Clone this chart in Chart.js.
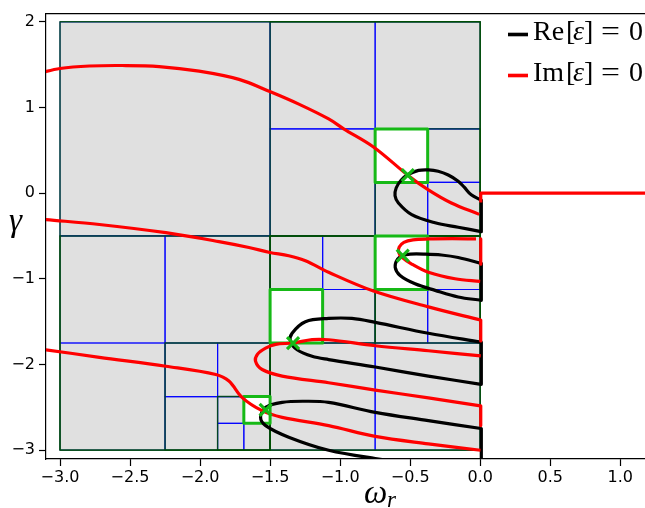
<!DOCTYPE html>
<html lang="en">
<head>
<meta charset="UTF-8">
<title>Root search boxes</title>
<script src="https://cdn.jsdelivr.net/npm/chart.js@4.4.1/dist/chart.umd.min.js"></script>
<style>
    html, body { margin: 0; padding: 0; background: #fff; overflow: hidden; }
    #wrap { width: 730px; height: 508px; }
</style>
</head>
<body>
<div id="wrap"><canvas id="chart"></canvas></div>
<script>
// ticks
const xTicks = [-3.0, -2.5, -2.0, -1.5, -1.0, -0.5, 0.0, 0.5, 1.0, 1.5];
const yTicks = [-3, -2, -1, 0, 1, 2];

// search boxes [x0, x1, y0, y1]
const domain = [-3, 0, -3, 2];
const leafBoxes = [
    [-3, -1.5, -0.5, 2],
    [-1.5, -0.75, 0.75, 2], [-0.75, 0, 0.75, 2], [-1.5, -0.75, -0.5, 0.75],
    [-0.375, 0, 0.125, 0.75], [-0.75, -0.375, -0.5, 0.125], [-0.375, 0, -0.5, 0.125],
    [-1.5, -0.75, -3, -1.75], [-0.75, 0, -3, -1.75],
    [-1.125, -0.75, -1.75, -1.125], [-1.5, -1.125, -1.125, -0.5], [-1.125, -0.75, -1.125, -0.5],
    [-0.375, 0, -1.125, -0.5], [-0.75, -0.375, -1.75, -1.125], [-0.375, 0, -1.75, -1.125],
    [-3, -2.25, -1.75, -0.5], [-2.25, -1.5, -1.75, -0.5], [-3, -2.25, -3, -1.75],
    [-2.25, -1.875, -2.375, -1.75], [-1.875, -1.5, -2.375, -1.75], [-2.25, -1.875, -3, -2.375],
    [-1.875, -1.6875, -2.6875, -2.375], [-1.875, -1.6875, -3, -2.6875], [-1.6875, -1.5, -3, -2.6875]
];
const splitBoxes = [
    [-3, 0, -3, 2],
    [-1.5, 0, -0.5, 2], [-3, -1.5, -3, -0.5], [-1.5, 0, -3, -0.5],
    [-0.75, 0, -0.5, 0.75],
    [-1.5, -0.75, -1.75, -0.5], [-0.75, 0, -1.75, -0.5],
    [-2.25, -1.5, -3, -1.75],
    [-1.875, -1.5, -3, -2.375]
];
const rootBoxes = [
    [-0.75, -0.375, 0.125, 0.75],
    [-0.75, -0.375, -1.125, -0.5],
    [-1.5, -1.125, -1.75, -1.125],
    [-1.6875, -1.5, -2.6875, -2.375]
];
const roots = [[-0.517, 0.21], [-0.553, -0.73], [-1.336, -1.75], [-1.532, -2.53]];

// Re[eps] = 0 contours
const reLoop1 = [[0.006, -0.08], [-0.064, -0.02], [-0.114, 0.069], [-0.157, 0.139], [-0.228, 0.211], [-0.3, 0.255], [-0.37, 0.271], [-0.44, 0.265], [-0.517, 0.215], [-0.565, 0.15], [-0.6, 0.06], [-0.608, -0.03], [-0.584, -0.115], [-0.489, -0.251], [-0.322, -0.346], [-0.157, -0.398], [0.006, -0.45]];
const reLoop2 = [[0.006, -0.82], [-0.157, -0.751], [-0.278, -0.722], [-0.394, -0.712], [-0.5, -0.712], [-0.553, -0.728], [-0.59, -0.77], [-0.607, -0.866], [-0.572, -0.962], [-0.465, -1.059], [-0.322, -1.135], [-0.157, -1.212], [0.006, -1.251]];
const reLoop3 = [[0.006, -1.74], [-0.37, -1.636], [-0.749, -1.509], [-0.916, -1.463], [-1.082, -1.463], [-1.248, -1.501], [-1.343, -1.636], [-1.354, -1.732], [-1.307, -1.828], [-1.2, -1.905], [-1.082, -1.943], [-0.749, -2.03], [-0.37, -2.136], [0.006, -2.232]];
const reLoop4 = [[0.006, -2.748], [-0.37, -2.656], [-0.749, -2.56], [-1.082, -2.443], [-1.25, -2.43], [-1.414, -2.443], [-1.532, -2.502], [-1.568, -2.618], [-1.532, -2.714], [-1.367, -2.849], [-1.082, -3.002], [-0.749, -3.098], [-0.45, -3.16]];
const reCuts = [[-0.08, -0.45], [-0.82, -1.251], [-1.74, -2.232], [-2.748, -3.2]];

// Im[eps] = 0 contours
const imTop = [[-3.15, 1.40], [-3.0, 1.455], [-2.79, 1.484], [-2.555, 1.49], [-2.292, 1.478], [-2.007, 1.424], [-1.722, 1.328], [-1.502, 1.186], [-1.295, 1.039], [-1.082, 0.866], [-0.975, 0.751], [-0.762, 0.539], [-0.517, 0.21], [-0.37, 0.038], [-0.206, -0.115], [-0.007, -0.248]];
const imAxis = [[0.004, -0.11], [0.004, 0], [1.8, 0]];
const imLoop2 = [[-0.03, -0.535], [-0.2, -0.532], [-0.37, -0.535], [-0.48, -0.545], [-0.545, -0.575], [-0.578, -0.63], [-0.582, -0.69], [-0.56, -0.745], [-0.489, -0.828], [-0.37, -0.924], [-0.18, -1.0], [0.0, -1.03]];
const imMid = [[-3.15, -0.30], [-3.103, -0.308], [-2.719, -0.366], [-2.244, -0.462], [-1.865, -0.566], [-1.651, -0.635], [-1.502, -0.693], [-1.367, -0.731], [-1.248, -0.789], [-1.082, -0.924], [-0.762, -1.143], [-0.37, -1.328], [0.002, -1.482]];
const imLoop3 = [[0.004, -1.9], [-0.37, -1.84], [-0.749, -1.782], [-1.082, -1.712], [-1.2, -1.71], [-1.336, -1.75], [-1.46, -1.765], [-1.532, -1.809], [-1.59, -1.88], [-1.604, -1.963], [-1.557, -2.059], [-1.414, -2.136], [-1.082, -2.214], [-0.749, -2.30], [-0.37, -2.39], [0.002, -2.483]];
const imLow = [[-3.15, -1.82], [-3.103, -1.828], [-2.719, -1.917], [-2.244, -2.021], [-1.888, -2.117], [-1.794, -2.194], [-1.699, -2.387], [-1.557, -2.54], [-1.414, -2.618], [-1.082, -2.714], [-0.749, -2.84], [-0.37, -2.927], [0.002, -3.002]];
const imCuts = [[-0.535, -0.83], [-1.482, -1.725], [-2.483, -2.714]];

const GREEN = '#16b916';
const pts = arr => arr.map(p => ({ x: p[0], y: p[1] }));
const rect = b => [[b[0], b[2]], [b[1], b[2]], [b[1], b[3]], [b[0], b[3]], [b[0], b[2]]];
function line(data, color, width, extra) {
    return Object.assign({
        data: pts(data), showLine: true, borderColor: color, borderWidth: width,
        pointRadius: 0, pointHoverRadius: 0, tension: 0, fill: false, clip: 0,
        borderJoinStyle: 'round'
    }, extra || {});
}
function fillBox(b, color) {
    return line([[b[0], b[3]], [b[1], b[3]]], 'rgba(0,0,0,0)', 0, { fill: { value: b[2] }, backgroundColor: color });
}

// bottom -> top
const layers = [];
layers.push(fillBox(domain, '#e0e0e0'));
rootBoxes.forEach(b => layers.push(fillBox(b, '#ffffff')));
leafBoxes.forEach(b => layers.push(line(rect(b), 'rgba(0,0,255,0.85)', 1.2)));
splitBoxes.forEach(b => layers.push(line(rect(b), 'rgba(0,80,0,0.85)', 1.4)));
rootBoxes.forEach(b => layers.push(line(rect(b), GREEN, 3)));
[reLoop1, reLoop2, reLoop3, reLoop4].forEach(c => layers.push(line(c, '#000', 3.2, { tension: 0.35 })));
reCuts.forEach(c => layers.push(line([[0.008, c[0]], [0.008, c[1]]], '#000', 3.2)));
[imTop, imLoop2, imMid, imLoop3, imLow].forEach(c => layers.push(line(c, '#ff0000', 3.2, { tension: 0.35 })));
layers.push(line(imAxis, '#ff0000', 3.2));
imCuts.forEach(c => layers.push(line([[0.004, c[0]], [0.004, c[1]]], '#ff0000', 3.2)));
layers.push({
    data: pts(roots), showLine: false, pointStyle: 'crossRot', pointRadius: 8.5, pointHoverRadius: 8.5,
    pointBorderWidth: 3.2, pointBorderColor: GREEN, borderColor: GREEN, clip: 0
});
layers.forEach((d, i) => { d.order = layers.length - i; });

const fmtX = v => (v < 0 ? '\u2212' : '') + Math.abs(v).toFixed(1);
const fmtY = v => (v < 0 ? '\u2212' : '') + Math.abs(v);

const decor = {
    id: 'decor',
    afterDraw(chart) {
        const { ctx, chartArea } = chart;
        ctx.save();
        // top spine
        ctx.strokeStyle = '#000';
        ctx.lineWidth = 1.2;
        ctx.beginPath();
        ctx.moveTo(chartArea.left, chartArea.top);
        ctx.lineTo(chartArea.right, chartArea.top);
        ctx.stroke();

        // legend
        const up = '28px "Liberation Serif", "DejaVu Serif", serif';
        const it = 'italic 28px "Liberation Serif", "DejaVu Serif", serif';
        const rows = [['Re', '#000', 34.5, 40], ['Im', '#ff0000', 75.5, 81]];
        rows.forEach(r => {
            ctx.strokeStyle = r[1];
            ctx.lineWidth = 3.6;
            ctx.beginPath();
            ctx.moveTo(508, r[2]);
            ctx.lineTo(528, r[2]);
            ctx.stroke();
            ctx.fillStyle = '#000';
            ctx.textBaseline = 'alphabetic';
            [[r[0], 533, up, 1], ['[', 566, up, 1], ['\u03b5', 573, it, 1], [']', 584, up, 1], ['=', 601, up, 1.2], ['0', 629, up, 1]].forEach(p => {
                ctx.save();
                ctx.font = p[2];
                ctx.translate(p[1], r[3]);
                ctx.scale(p[3], 1);
                ctx.fillText(p[0], 0, 0);
                ctx.restore();
            });
        });

        // axis labels
        ctx.fillStyle = '#000';
        ctx.font = 'italic 33px "Liberation Serif", "DejaVu Serif", serif';
        ctx.fillText('\u03b3', 9, 231);
        ctx.fillText('\u03c9', 364, 503);
        ctx.font = 'italic 23px "Liberation Serif", "DejaVu Serif", serif';
        ctx.fillText('r', 387, 507);
        ctx.restore();
    }
};

new Chart(document.getElementById('chart'), {
    type: 'line',
    data: { datasets: layers },
    options: {
        responsive: true,
        maintainAspectRatio: false,
        animation: false,
        events: [],
        layout: { padding: { top: 9, right: 10, left: 0, bottom: 0 } },
        plugins: { legend: { display: false }, tooltip: { enabled: false } },
        scales: {
            x: {
                type: 'linear', min: -3.1, max: 1.7,
                afterBuildTicks: s => { s.ticks = xTicks.map(v => ({ value: v })); },
                afterFit: s => { s.height = 49; },
                border: { display: true, color: '#000', width: 1.2 },
                grid: { display: true, drawOnChartArea: false, color: '#000', tickLength: 7, tickWidth: 1.2 },
                ticks: {
                    autoSkip: false, maxRotation: 0, padding: 2, color: '#000',
                    font: { family: 'DejaVu Sans', size: 16 },
                    callback: v => fmtX(v)
                }
            },
            y: {
                type: 'linear', min: -3.104, max: 2.096,
                afterBuildTicks: s => { s.ticks = yTicks.map(v => ({ value: v })); },
                afterFit: s => { s.width = 46; },
                border: { display: true, color: '#000', width: 1.2 },
                grid: { display: true, drawOnChartArea: false, color: '#000', tickLength: 7, tickWidth: 1.2 },
                ticks: {
                    autoSkip: false, padding: 4, color: '#000',
                    font: { family: 'DejaVu Sans', size: 16 },
                    callback: v => fmtY(v)
                }
            }
        }
    },
    plugins: [decor]
});
</script>
</body>
</html>
